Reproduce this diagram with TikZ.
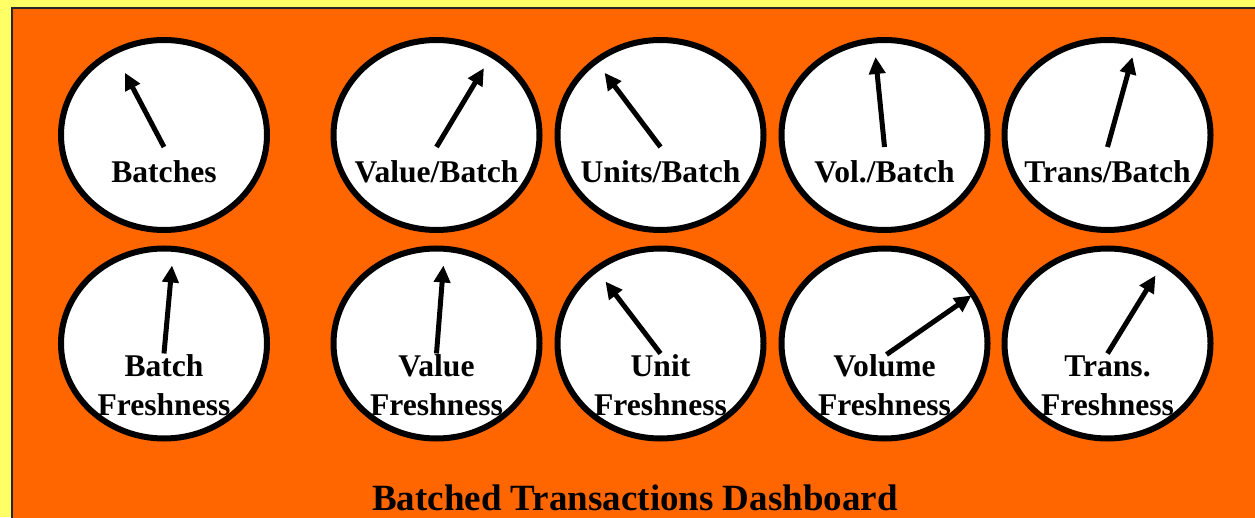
\documentclass[tikz,border=0pt]{standalone}
\usepackage{fontspec}
\setmainfont{Liberation Serif}
\usetikzlibrary{shapes.geometric,arrows.meta}
\definecolor{panelorange}{HTML}{FF6600}
\definecolor{paleyellow}{HTML}{FFFF66}
\tikzset{
  gauge/.style={ellipse, draw=black, fill=white, line width=6pt,
    minimum width=206pt, minimum height=190pt, inner sep=0pt},
  needle/.style={line width=5pt, -{Triangle[length=17pt,width=16pt]}},
  gaugelabel/.style={anchor=base, inner sep=0pt,
    font=\bfseries\fontsize{31.6}{38}\selectfont},
}
\newcommand{\twolines}[2]{\begin{tabular}[t]{@{}c@{}}#1\\#2\end{tabular}}
\begin{document}
\begin{tikzpicture}[x=1pt,y=1pt]
  % page and panel
  \useasboundingbox (0,0) rectangle (1255,517);
  \clip (0,0) rectangle (1255,517);
  \fill[paleyellow] (0,0) rectangle (1255,517);
  \filldraw[fill=panelorange, draw=black!85, line width=2pt] (12,-10) rectangle (1270,509);

  % top row of gauges
  \node[gauge] (g1) at (164,382) {};
  \node[gauge] (g2) at (436.5,382) {};
  \node[gauge] (g3) at (660.5,382) {};
  \node[gauge] (g4) at (884.5,382) {};
  \node[gauge] (g5) at (1107.5,382) {};
  % bottom row of gauges
  \node[gauge] (h1) at (164,173.5) {};
  \node[gauge] (h2) at (436.5,173.5) {};
  \node[gauge] (h3) at (660.5,173.5) {};
  \node[gauge] (h4) at (884.5,173.5) {};
  \node[gauge] (h5) at (1107.5,173.5) {};

  % needles
  \draw[needle] ([yshift=-12pt]g1.center) -- ++(117.8:84);
  \draw[needle] ([yshift=-12pt]g2.center) -- ++(59:92);
  \draw[needle] ([yshift=-12pt]g3.center) -- ++(127:93);
  \draw[needle] ([yshift=-12pt]g4.center) -- ++(95.7:90.5);
  \draw[needle] ([yshift=-12pt]g5.center) -- ++(74.5:93.4);
  \draw[needle] ([yshift=-10pt]h1.center) -- ++(84.8:88.4);
  \draw[needle] ([yshift=-10pt]h2.center) -- ++(85.5:88.3);
  \draw[needle] ([yshift=-10pt]h3.center) -- ++(127.4:90.6);
  \draw[needle] ([xshift=2pt,yshift=-11pt]h4.center) -- ++(34.8:103.5);
  \draw[needle] ([yshift=-10pt]h5.center) -- ++(58.4:91.6);

  % labels
  \node[gaugelabel] (l1) at ([yshift=-48pt]g1.center) {Batches};
  \node[gaugelabel] (l2) at ([yshift=-48pt]g2.center) {Value/Batch};
  \node[gaugelabel] (l3) at ([yshift=-48pt]g3.center) {Units/Batch};
  \node[gaugelabel] (l4) at ([yshift=-48pt]g4.center) {Vol./Batch};
  \node[gaugelabel] (l5) at ([yshift=-48pt]g5.center) {Trans/Batch};
  \node[gaugelabel] (m1) at ([yshift=-33.5pt]h1.center) {\twolines{Batch}{Freshness}};
  \node[gaugelabel] (m2) at ([yshift=-33.5pt]h2.center) {\twolines{Value}{Freshness}};
  \node[gaugelabel] (m3) at ([yshift=-33.5pt]h3.center) {\twolines{Unit}{Freshness}};
  \node[gaugelabel] (m4) at ([yshift=-33.5pt]h4.center) {\twolines{Volume}{Freshness}};
  \node[gaugelabel] (m5) at ([yshift=-33.5pt]h5.center) {\twolines{Trans.}{Freshness}};

  % title
  \node[anchor=base, inner sep=0pt, font=\bfseries\fontsize{37}{44}\selectfont]
    (title) at (635,7) {Batched Transactions Dashboard};
\end{tikzpicture}
\end{document}
